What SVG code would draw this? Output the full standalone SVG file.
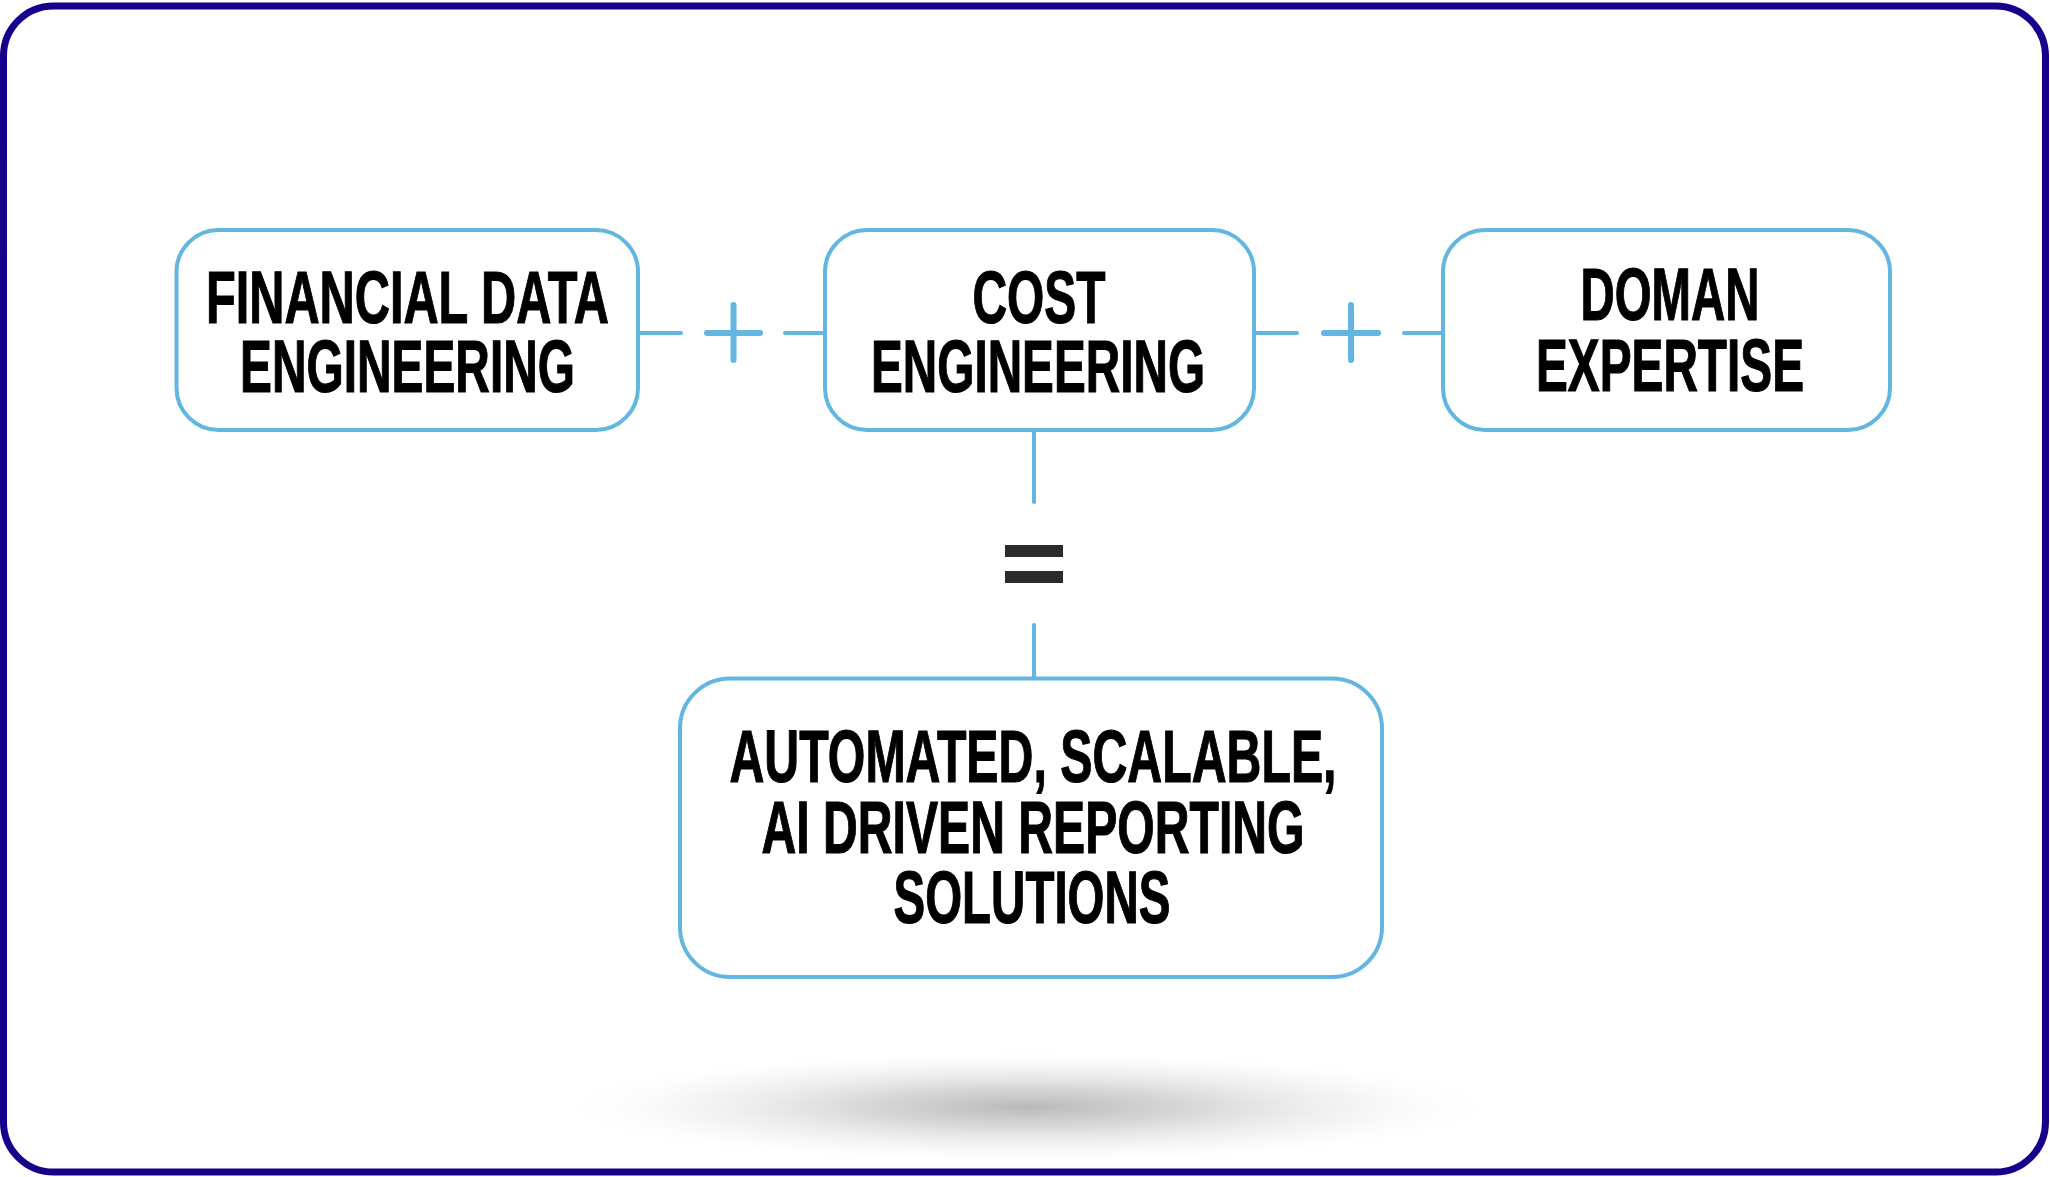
<svg xmlns="http://www.w3.org/2000/svg" width="2050" height="1177" viewBox="0 0 2050 1177">
<defs>
<radialGradient id="shadow" cx="0.5" cy="0.5" r="0.5">
<stop offset="0" stop-color="#b9b9b9" stop-opacity="1"/>
<stop offset="0.35" stop-color="#cfcfcf" stop-opacity="0.8"/>
<stop offset="0.7" stop-color="#e6e6e6" stop-opacity="0.4"/>
<stop offset="1" stop-color="#ffffff" stop-opacity="0"/>
</radialGradient>
<style>
.box{fill:#ffffff;stroke:#62b6df;stroke-width:4}
.frame{fill:#ffffff;stroke:#16008c;stroke-width:7}
.lbl{font-family:"Liberation Sans",Arial,sans-serif;font-weight:bold;font-size:75px;fill:#000000;stroke:#000000;stroke-width:1.2;text-anchor:middle}
.con{stroke:#62b6df;stroke-width:4;stroke-linecap:round;fill:none}
.plus{stroke:#62b6df;stroke-width:6;stroke-linecap:round;fill:none}
.eq{fill:#2b2b2b}
</style>
</defs>
<rect class="frame" x="3.5" y="6" width="2042" height="1166" rx="50"/>
<ellipse cx="1027" cy="1107" rx="480" ry="58" fill="url(#shadow)"/>
<g id="connectors">
<line class="con" x1="638" y1="333" x2="681" y2="333"/>
<line class="plus" x1="707" y1="333" x2="760" y2="333"/>
<line class="plus" x1="733.5" y1="305" x2="733.5" y2="360"/>
<line class="con" x1="785" y1="333" x2="825" y2="333"/>
<line class="con" x1="1254" y1="333" x2="1297" y2="333"/>
<line class="plus" x1="1324" y1="333" x2="1378" y2="333"/>
<line class="plus" x1="1351" y1="305" x2="1351" y2="360"/>
<line class="con" x1="1404" y1="333" x2="1443" y2="333"/>
<line class="con" x1="1034" y1="430" x2="1034" y2="502"/>
<line class="con" x1="1034" y1="625" x2="1034" y2="678"/>
<rect class="eq" x="1005" y="545" width="58" height="12"/>
<rect class="eq" x="1005" y="571" width="58" height="12"/>
</g>
<g id="node-financial">
<rect class="box" x="176.5" y="230" width="461.5" height="200" rx="42"/>
<text class="lbl" x="407.5" y="323" textLength="403" lengthAdjust="spacingAndGlyphs">FINANCIAL DATA</text>
<text class="lbl" x="407.5" y="392" textLength="335" lengthAdjust="spacingAndGlyphs">ENGINEERING</text>
</g>
<g id="node-cost">
<rect class="box" x="825" y="230" width="429" height="200" rx="42"/>
<text class="lbl" x="1039" y="323" textLength="133" lengthAdjust="spacingAndGlyphs">COST</text>
<text class="lbl" x="1038" y="392" textLength="334" lengthAdjust="spacingAndGlyphs">ENGINEERING</text>
</g>
<g id="node-domain">
<rect class="box" x="1443" y="230" width="447" height="200" rx="42"/>
<text class="lbl" x="1670" y="320" textLength="179" lengthAdjust="spacingAndGlyphs">DOMAN</text>
<text class="lbl" x="1670" y="391" textLength="268" lengthAdjust="spacingAndGlyphs">EXPERTISE</text>
</g>
<g id="node-result">
<rect class="box" x="680" y="678.5" width="702" height="298.5" rx="50"/>
<text class="lbl" x="1033" y="782" textLength="607" lengthAdjust="spacingAndGlyphs">AUTOMATED, SCALABLE,</text>
<text class="lbl" x="1033" y="852.5" textLength="543" lengthAdjust="spacingAndGlyphs">AI DRIVEN REPORTING</text>
<text class="lbl" x="1032" y="923" textLength="277" lengthAdjust="spacingAndGlyphs">SOLUTIONS</text>
</g>
</svg>
